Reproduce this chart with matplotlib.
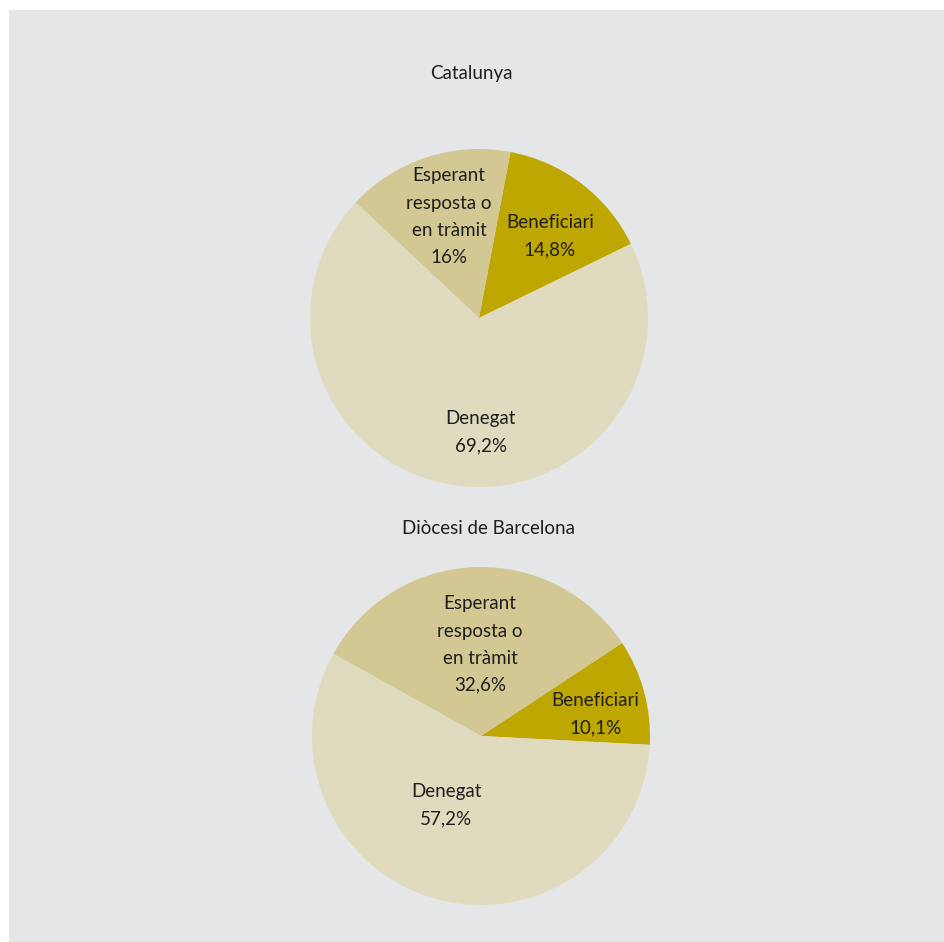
import matplotlib
matplotlib.use("Agg")
import matplotlib.pyplot as plt
from matplotlib.patches import Rectangle

plt.rcParams['font.family'] = ['Lato', 'DejaVu Sans']

# dades
categories = ["Beneficiari", "Esperant\nresposta o\nen tràmit", "Denegat"]
catalunya = [14.8, 16.0, 69.2]
barcelona = [10.1, 32.6, 57.2]
titles = ["Catalunya", "Diòcesi de Barcelona"]
colors = ["#bea700", "#d3c794", "#e0dbbf"]

W, H = 944, 942
fig = plt.figure(figsize=(W / 100, H / 100), dpi=100)
fig.patch.set_facecolor("white")
fig.patches.append(Rectangle((9 / W, 0), 1, 1 - 10 / H, transform=fig.transFigure,
                             facecolor="#e5e6e7", edgecolor="none", zorder=-10))

R = 169  # radi en pixels
half = 1.2 * R


def make_ax(cx, cy):
    # cx, cy: centre en pixels (des de dalt)
    yb = H - cy
    ax = fig.add_axes([(cx - half) / W, (yb - half) / H, 2 * half / W, 2 * half / H])
    return ax


def fmt(v):
    s = f"{v:.1f}".replace(".", ",")
    if s.endswith(",0"):
        s = s[:-2]
    return s + "%"


def draw(ax, values, start, label_pos):
    ax.pie(values, colors=colors, startangle=start, counterclock=True,
           wedgeprops=dict(linewidth=0))
    ax.set_xlim(-1.2, 1.2)
    ax.set_ylim(-1.2, 1.2)
    ax.set_aspect("equal")
    ax.axis("off")
    for name, v, (x, y) in zip(categories, values, label_pos):
        ax.text(x, y, name + "\n" + fmt(v), ha="center", va="center",
                fontsize=13.5, color="#1e1e1e", linespacing=1.72)


ax1 = make_ax(479, 318)
draw(ax1, catalunya, 26, [(0.42, 0.485), (-0.178, 0.60), (0.01, -0.675)])

ax2 = make_ax(481, 736)
draw(ax2, barcelona, -3, [(0.675, 0.13), (-0.006, 0.541), (-0.207, -0.408)])

fig.text(471 / W, 1 - 74 / H, titles[0], ha="center", va="center",
         fontsize=13.5, color="#1e1e1e")
fig.text(489 / W, 1 - 529 / H, titles[1], ha="center", va="center",
         fontsize=13.5, color="#1e1e1e")

fig.savefig("out.png", dpi=100, facecolor=fig.get_facecolor())
